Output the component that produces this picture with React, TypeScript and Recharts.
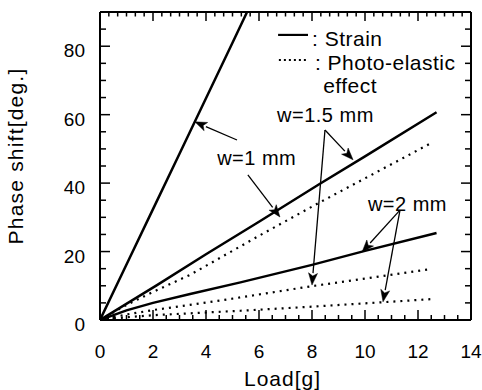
import React from "react";
import { LineChart, Line, XAxis, YAxis, ReferenceLine, ReferenceDot } from "recharts";

// ---- data ----
const strain1mm = [
  { x: 0, y: 0 }, { x: 1, y: 16.2 }, { x: 2, y: 32.4 }, { x: 3, y: 48.6 },
  { x: 4, y: 64.8 }, { x: 5, y: 81.0 }, { x: 5.55, y: 90 },
];
const strain15mm = [
  { x: 0, y: 0 }, { x: 2.15, y: 10.2 }, { x: 4, y: 19.2 }, { x: 6, y: 28.7 },
  { x: 8.3, y: 39.8 }, { x: 10, y: 47.8 }, { x: 12.7, y: 60.7 },
];
const photo15mm = [
  { x: 0, y: 0 }, { x: 1, y: 4.4 }, { x: 2, y: 8.2 }, { x: 3.4, y: 13.2 },
  { x: 6, y: 24.6 }, { x: 8.3, y: 34.4 }, { x: 10, y: 41.4 }, { x: 12.57, y: 52 },
];
const strain2mm = [
  { x: 0, y: 0 }, { x: 1, y: 2.8 }, { x: 2, y: 5.0 }, { x: 3.4, y: 7.6 },
  { x: 5.3, y: 11.0 }, { x: 8, y: 16.1 }, { x: 10, y: 20.2 }, { x: 12.7, y: 25.4 },
];
const photo2mm = [
  { x: 0, y: 0 }, { x: 1, y: 1.6 }, { x: 2, y: 2.9 }, { x: 4.64, y: 5.8 },
  { x: 8, y: 9.9 }, { x: 10, y: 12.1 }, { x: 12.5, y: 14.9 },
];
const photoLow = [
  { x: 0, y: 0 }, { x: 1, y: 0.8 }, { x: 2, y: 1.4 }, { x: 5.3, y: 2.7 },
  { x: 8, y: 3.9 }, { x: 10.7, y: 5.2 }, { x: 12.5, y: 6.1 },
];

// tick labels
const X_MAJOR = [0, 2, 4, 6, 8, 10, 12, 14];
const Y_MAJOR = [0, 20, 40, 60, 80];

// annotation texts (data coordinates)
const labels = [
  { text: "w=1 mm", x: 4.42, y: 45.3 },
  { text: "w=1.5 mm", x: 6.68, y: 57.9 },
  { text: "w=2 mm", x: 10.11, y: 31.9 },
];
// arrows: tail -> tip
const arrows = [
  { x1: 5.17, y1: 52.6, x2: 3.58, y2: 57.9 },
  { x1: 5.58, y1: 42.4, x2: 6.79, y2: 30.1 },
  { x1: 8.49, y1: 55.5, x2: 9.55, y2: 46.8 },
  { x1: 8.49, y1: 55.5, x2: 8.0, y2: 10.2 },
  { x1: 11.32, y1: 32.1, x2: 9.89, y2: 19.9 },
  { x1: 11.32, y1: 32.1, x2: 10.68, y2: 5.3 },
];
// legend (data coordinates)
const legendLines = [
  { x1: 6.72, x2: 7.85, y: 83.3, dashed: false },
  { x1: 6.75, x2: 7.85, y: 76.0, dashed: true },
];
const legendTexts = [
  { text: ": Strain", x: 8.0, y: 80.1 },
  { text: ": Photo-elastic", x: 8.11, y: 73.1 },
  { text: "effect", x: 8.42, y: 66.3 },
];

const FONT = "'Liberation Sans', Arial, Helvetica, sans-serif";

const bottomTicks = Array.from({ length: 29 }, (_, i) => i * 0.5);
const topTicks = Array.from({ length: 43 }, (_, i) => i / 3);
const yTicks = Array.from({ length: 19 }, (_, i) => i * 5);

const isMajorX = (v: number) => X_MAJOR.some((m) => Math.abs(m - v) < 1e-6);
const isMajorY = (v: number) => Y_MAJOR.some((m) => Math.abs(m - v) < 1e-6);

const BottomTick = (p: any) => {
  const v = p.payload.value;
  const major = isMajorX(v);
  return (
    <g>
      <line x1={p.x} x2={p.x} y1={p.y} y2={p.y - (major ? 10 : 5)} stroke="#000" strokeWidth={1.5} />
      {major && (
        <text x={p.x} y={p.y + 38} textAnchor="middle" fontSize={19} fontFamily={FONT} fill="#000">
          {v}
        </text>
      )}
    </g>
  );
};
const TopTick = (p: any) => {
  const v = p.payload.value;
  const major = isMajorX(v);
  return <line x1={p.x} x2={p.x} y1={p.y} y2={p.y + (major ? 9 : 4.5)} stroke="#000" strokeWidth={1.5} />;
};
const LeftTick = (p: any) => {
  const v = p.payload.value;
  const major = isMajorY(v);
  return (
    <g>
      <line x1={p.x} x2={p.x + (major ? 10 : 6)} y1={p.y} y2={p.y} stroke="#000" strokeWidth={1.5} />
      {major && (
        <text x={p.x - 15} y={p.y + 11} textAnchor="end" fontSize={19} fontFamily={FONT} fill="#000">
          {v}
        </text>
      )}
    </g>
  );
};
const RightTick = (p: any) => {
  const v = p.payload.value;
  const major = isMajorY(v);
  return <line x1={p.x} x2={p.x - (major ? 10 : 6)} y1={p.y} y2={p.y} stroke="#000" strokeWidth={1.5} />;
};

const ArrowShape = (p: any) => {
  const { x1, y1, x2, y2 } = p;
  const dx = x2 - x1, dy = y2 - y1;
  const len = Math.sqrt(dx * dx + dy * dy) || 1;
  const ux = dx / len, uy = dy / len;
  const hl = 12, hw = 4.5;
  const bx = x2 - ux * hl, by = y2 - uy * hl;
  const pts = `${x2},${y2} ${bx - uy * hw},${by + ux * hw} ${bx + ux * 3},${by + uy * 3} ${bx + uy * hw},${by - ux * hw}`;
  return (
    <g>
      <line x1={x1} y1={y1} x2={bx} y2={by} stroke="#000" strokeWidth={1.3} />
      <polygon points={pts} fill="#000" stroke="#000" strokeWidth={0.5} />
    </g>
  );
};

const makeText = (text: string, size: number) => (p: any) => (
  <text x={p.cx} y={p.cy} fontSize={size} fontFamily={FONT} fill="#000" letterSpacing={0.5}>
    {text}
  </text>
);

export default function App() {
  return (
    <div style={{ position: "absolute", left: 0, top: 0, background: "#fff" }}>
      <LineChart width={482} height={390} margin={{ top: 11, right: 10, bottom: 20, left: 40 }}>
        <XAxis
          type="number"
          dataKey="x"
          domain={[0, 14]}
          allowDataOverflow
          ticks={bottomTicks}
          interval={0}
          tickSize={0}
          tickMargin={0}
          tick={BottomTick}
          height={50}
          axisLine={{ stroke: "#000", strokeWidth: 2 }}
          label={(lp: any) => {
            const vb = lp.viewBox;
            return (
              <text x={vb.x + vb.width / 2 - 3} y={vb.y + 66} textAnchor="middle" fontSize={21} fontFamily={FONT} letterSpacing={1} fill="#000">
                Load[g]
              </text>
            );
          }}
        />
        <XAxis
          xAxisId="top"
          orientation="top"
          type="number"
          dataKey="x"
          domain={[0, 14]}
          allowDataOverflow
          ticks={topTicks}
          interval={0}
          tickSize={0}
          tickMargin={0}
          tick={TopTick}
          height={1}
          axisLine={{ stroke: "#000", strokeWidth: 2 }}
        />
        <YAxis
          type="number"
          domain={[0, 90]}
          allowDataOverflow
          ticks={yTicks}
          interval={0}
          tickSize={0}
          tickMargin={0}
          tick={LeftTick}
          width={60}
          axisLine={{ stroke: "#000", strokeWidth: 2 }}
          label={(lp: any) => {
            const vb = lp.viewBox;
            const cx = vb.x - 17;
            const cy = vb.y + vb.height / 2 - 10;
            return (
              <text x={cx} y={cy} transform={`rotate(-90 ${cx} ${cy})`} textAnchor="middle" fontSize={21} fontFamily={FONT} letterSpacing={1.2} fill="#000">
                Phase shift[deg.]
              </text>
            );
          }}
        />
        <YAxis
          yAxisId="right"
          orientation="right"
          type="number"
          domain={[0, 90]}
          allowDataOverflow
          ticks={yTicks}
          interval={0}
          tickSize={0}
          tickMargin={0}
          tick={RightTick}
          width={1}
          axisLine={{ stroke: "#000", strokeWidth: 2 }}
        />

        <Line data={strain1mm} dataKey="y" type="linear" stroke="#000" strokeWidth={2.5} dot={false} isAnimationActive={false} />
        <Line data={strain15mm} dataKey="y" type="linear" stroke="#000" strokeWidth={2.5} dot={false} isAnimationActive={false} />
        <Line data={photo15mm} dataKey="y" type="linear" stroke="#000" strokeWidth={2.2} strokeDasharray="2 5" dot={false} isAnimationActive={false} />
        <Line data={strain2mm} dataKey="y" type="linear" stroke="#000" strokeWidth={2.5} dot={false} isAnimationActive={false} />
        <Line data={photo2mm} dataKey="y" type="linear" stroke="#000" strokeWidth={2.2} strokeDasharray="2 5" dot={false} isAnimationActive={false} />
        <Line data={photoLow} dataKey="y" type="linear" stroke="#000" strokeWidth={2.2} strokeDasharray="2 5" dot={false} isAnimationActive={false} />

        {arrows.map((a, i) => (
          <ReferenceLine
            key={"a" + i}
            segment={[{ x: a.x1, y: a.y1 }, { x: a.x2, y: a.y2 }]}
            shape={ArrowShape}
            ifOverflow="visible"
          />
        ))}
        {labels.map((l, i) => (
          <ReferenceDot key={"l" + i} x={l.x} y={l.y} r={0} shape={makeText(l.text, 20)} ifOverflow="visible" />
        ))}
        {legendLines.map((l, i) => (
          <ReferenceLine
            key={"ll" + i}
            segment={[{ x: l.x1, y: l.y }, { x: l.x2, y: l.y }]}
            stroke="#000"
            strokeWidth={l.dashed ? 2 : 2.2}
            strokeDasharray={l.dashed ? "2 3" : undefined}
            ifOverflow="visible"
          />
        ))}
        {legendTexts.map((l, i) => (
          <ReferenceDot key={"lt" + i} x={l.x} y={l.y} r={0} shape={makeText(l.text, 21)} ifOverflow="visible" />
        ))}
      </LineChart>
    </div>
  );
}
